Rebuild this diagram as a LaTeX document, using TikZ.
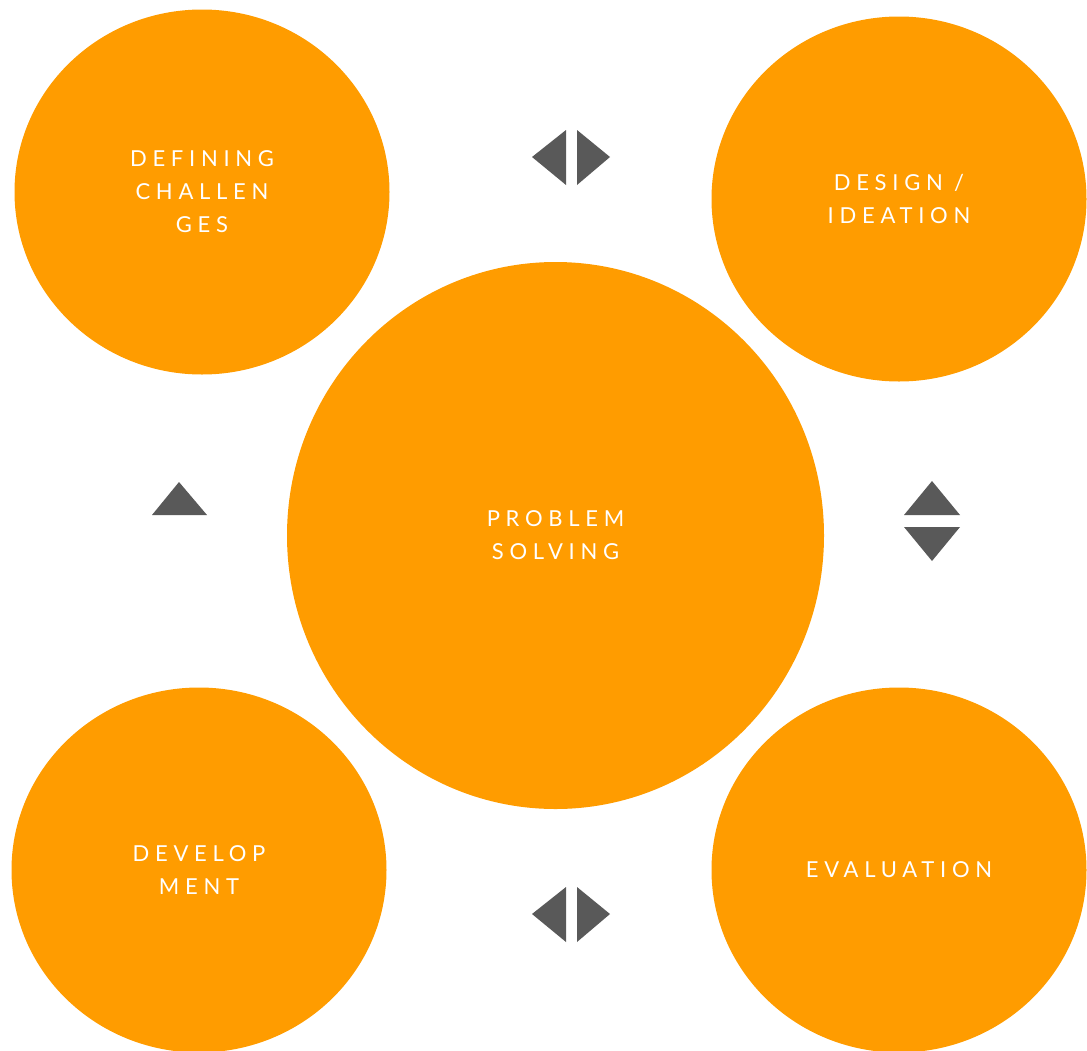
\documentclass[tikz,border=0pt]{standalone}
\usepackage{fontspec}
\usepackage{xcolor}
\usepackage{tikz}
\usetikzlibrary{shapes.geometric}

\newfontfamily\stagefont[LetterSpace=26]{Lato}
\definecolor{stageorange}{HTML}{FF9C00}
\definecolor{markgray}{HTML}{595959}

\begin{document}
\begin{tikzpicture}[
   x=1pt, y=-1pt,
   stage/.style={ellipse, fill=stageorange, text=white, inner sep=0pt,
                 align=center, font=\stagefont\fontsize{22}{33}\selectfont,
                 minimum width=375pt, minimum height=365pt},
   hub/.style={stage, minimum width=537pt, minimum height=547pt},
   flowmark/.style={fill=markgray}]
  \useasboundingbox (0,0) rectangle (1087,1050);
  \node[stage] (define) at (202,192)   {DEFINING\\CHALLEN\\GES};
  \node[stage] (design) at (899,199)   {DESIGN /\\IDEATION};
  \node[hub]   (solve)  at (555.5,535.5) {PROBLEM\\SOLVING};
  \node[stage] (devel)  at (199,870)   {DEVELOP\\MENT};
  \node[stage] (eval)   at (899,870)   {EVALUATION};
  % back-and-forth marks between the stages
  \fill[flowmark] (532,157) -- (566,130) -- (566,185) -- cycle;
  \fill[flowmark] (610,157) -- (577,130) -- (577,185) -- cycle;
  \fill[flowmark] (532,914) -- (566,887) -- (566,942) -- cycle;
  \fill[flowmark] (610,914) -- (577,887) -- (577,942) -- cycle;
  \fill[flowmark] (179,482) -- (207,515) -- (152,515) -- cycle;
  \fill[flowmark] (932,481) -- (960,515) -- (904,515) -- cycle;
  \fill[flowmark] (932,561) -- (960,527) -- (904,527) -- cycle;
\end{tikzpicture}
\end{document}
